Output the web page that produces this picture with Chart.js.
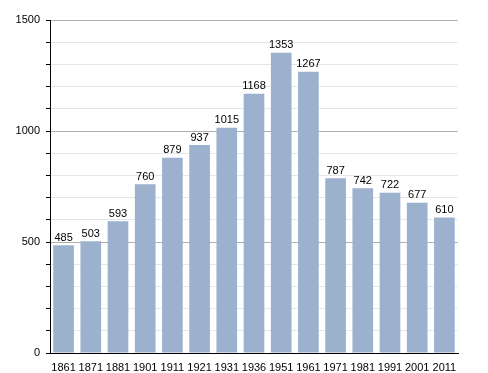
<!DOCTYPE html>
<html>
<head>
<meta charset="utf-8">
<script src="https://cdn.jsdelivr.net/npm/chart.js@4/dist/chart.umd.min.js"></script>
<style>
  body { margin: 0; background: #fff; }
  #chart { display: block; }
</style>
</head>
<body>
<canvas id="chart" width="488" height="373"></canvas>
<script>
// données
const annees = ['1861', '1871', '1881', '1901', '1911', '1921', '1931', '1936', '1951', '1961', '1971', '1981', '1991', '2001', '2011'];
const population = [485, 503, 593, 760, 879, 937, 1015, 1168, 1353, 1267, 787, 742, 722, 677, 610];
const yMax = 1500;
const yStep = 100;
const yLabelStep = 500;

// étiquettes au-dessus des barres
const valeursPlugin = {
    id: 'valeurs',
    afterDatasetsDraw(chart) {
        const ctx = chart.ctx;
        const meta = chart.getDatasetMeta(0);
        ctx.save();
        ctx.font = '11px "Liberation Sans", Arial, sans-serif';
        ctx.fillStyle = '#000';
        ctx.textAlign = 'center';
        ctx.textBaseline = 'bottom';
        meta.data.forEach((bar, i) => {
            ctx.fillText(String(population[i]), bar.x, bar.y - 2);
        });
        ctx.restore();
    }
};

new Chart(document.getElementById('chart'), {
    type: 'bar',
    data: {
        labels: annees,
        datasets: [{
            data: population,
            backgroundColor: '#9bb1cd',
            borderWidth: 0,
            barPercentage: 0.76,
            categoryPercentage: 1.0
        }]
    },
    options: {
        responsive: false,
        animation: false,
        layout: { padding: { top: 20, right: 30, bottom: 0, left: 0 } },
        plugins: { legend: { display: false }, tooltip: { enabled: false } },
        scales: {
            x: {
                grid: { display: false },
                border: { display: true, color: '#000', width: 1 },
                ticks: {
                    color: '#000',
                    font: { family: '"Liberation Sans", Arial, sans-serif', size: 11 },
                    maxRotation: 0,
                    autoSkip: false,
                    padding: 0
                },
                afterFit(scale) { scale.height = 20; }
            },
            y: {
                min: 0,
                max: yMax,
                border: { display: true, color: '#000', width: 1 },
                grid: {
                    color: c => (c.tick.value % yLabelStep === 0 ? '#b0b0b0' : '#e6e6e6'),
                    tickColor: '#000',
                    tickLength: 4
                },
                ticks: {
                    stepSize: yStep,
                    color: '#000',
                    font: { family: '"Liberation Sans", Arial, sans-serif', size: 11 },
                    padding: 6,
                    callback: v => (v % yLabelStep === 0 ? v : '')
                },
                afterFit(scale) { scale.width = 50; }
            }
        }
    },
    plugins: [valeursPlugin]
});
</script>
</body>
</html>
